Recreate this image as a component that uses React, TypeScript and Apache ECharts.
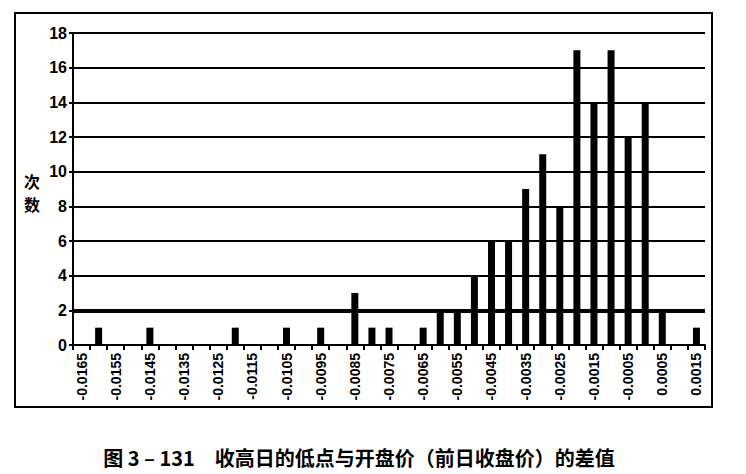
import React, { useEffect, useRef } from "react";
import * as echarts from "echarts";

const categories = [
  "-0.0165", "-0.016", "-0.0155", "-0.015", "-0.0145", "-0.014", "-0.0135", "-0.013",
  "-0.0125", "-0.012", "-0.0115", "-0.011", "-0.0105", "-0.01", "-0.0095", "-0.009",
  "-0.0085", "-0.008", "-0.0075", "-0.007", "-0.0065", "-0.006", "-0.0055", "-0.005",
  "-0.0045", "-0.004", "-0.0035", "-0.003", "-0.0025", "-0.002", "-0.0015", "-0.001",
  "-0.0005", "0", "0.0005", "0.001", "0.0015",
];
const counts = [
  0, 1, 0, 0, 1, 0, 0, 0,
  0, 1, 0, 0, 1, 0, 1, 0,
  3, 1, 1, 0, 1, 2, 2, 4,
  6, 6, 9, 11, 8, 17, 14, 17,
  12, 14, 2, 0, 1,
];
const yTicks = { min: 0, max: 18, interval: 2 };
const yAxisNameChars = ["次", "数"];
const caption = "图 3 – 131　收高日的低点与开盘价（前日收盘价）的差值";

export default function App() {
  const ref = useRef<HTMLDivElement>(null);
  useEffect(() => {
    if (!ref.current) return;
    const chart = echarts.init(ref.current, null, { renderer: "svg" });
    chart.setOption({
      animation: false,
      backgroundColor: "#fff",
      grid: { left: 73, right: 41, top: 33, bottom: 129 },
      xAxis: {
        type: "category",
        data: categories,
        axisLine: { lineStyle: { color: "#000", width: 2 } },
        axisTick: { show: true, interval: 0, length: 5, lineStyle: { color: "#000", width: 2 } },
        axisLabel: {
          interval: 1,
          rotate: 90,
          color: "#000",
          fontFamily: "Liberation Sans",
          fontWeight: "bold",
          fontSize: 14,
          margin: 8,
        },
      },
      yAxis: {
        type: "value",
        min: yTicks.min,
        max: yTicks.max,
        interval: yTicks.interval,
        axisLine: { show: true, lineStyle: { color: "#000", width: 2 } },
        axisTick: { show: true, length: 4, lineStyle: { color: "#000", width: 2 } },
        axisLabel: {
          color: "#000",
          fontFamily: "Liberation Sans",
          fontWeight: "bold",
          fontSize: 16,
          margin: 6,
        },
        splitLine: { show: true, lineStyle: { color: "#000", width: 2 } },
      },
      series: [
        {
          type: "bar",
          data: counts,
          barWidth: 7,
          itemStyle: { color: "#000" },
          markLine: {
            silent: true,
            symbol: "none",
            label: { show: false },
            lineStyle: { color: "#000", width: 4, type: "solid" },
            data: [{ yAxis: 2 }],
          },
        },
      ],
      graphic: [
        {
          type: "rect",
          shape: { x: 15, y: 13, width: 697, height: 394 },
          style: { fill: "none", stroke: "#000", lineWidth: 2 },
          silent: true,
        },
        ...yAxisNameChars.map((ch, i) => ({
          type: "text",
          x: 32,
          y: 181 + i * 23,
          style: {
            text: ch,
            fill: "#000",
            font: "bold 16px 'Noto Sans CJK SC'",
            align: "center",
            verticalAlign: "middle",
          },
        })),
        {
          type: "text",
          x: 359,
          y: 457,
          style: {
            text: caption,
            fill: "#000",
            font: "bold 20px 'Noto Sans CJK SC'",
            align: "center",
            verticalAlign: "middle",
          },
        },
      ],
    });
    return () => chart.dispose();
  }, []);
  return (
    <div
      ref={ref}
      style={{ position: "fixed", left: 0, top: 0, width: 746, height: 474 }}
    />
  );
}
